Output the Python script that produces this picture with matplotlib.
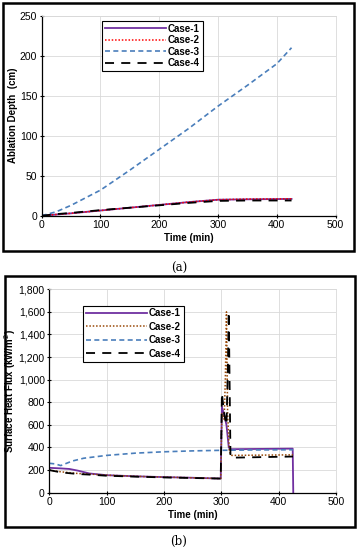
import matplotlib.pyplot as plt
from matplotlib.patches import Rectangle

plt.rcParams['font.family'] = ['Liberation Sans', 'DejaVu Sans']

# (a) ablation depth data
t_a = [0, 25, 50, 100, 150, 200, 250, 300, 350, 400, 425]
depth1 = [0, 1.5, 3, 6.5, 10, 13.5, 17, 20, 20.5, 20.8, 21]
depth2 = [0, 1.5, 3, 6.5, 10, 13.5, 17, 20, 20.8, 21, 21.2]
depth3 = [0, 5, 13, 32, 57, 83, 109, 137, 163, 190, 210]
depth4 = [0, 2, 3.5, 7, 10, 13, 16, 18.5, 19, 19, 19]

# (b) surface heat flux data
t1 = [0, 20, 35, 50, 70, 100, 150, 200, 250, 299, 301, 305, 309, 313, 316, 424.5, 425.5]
flux1 = [220, 215, 210, 195, 170, 155, 145, 138, 132, 125, 760, 690, 600, 400, 385, 390, 0]
t2 = [0, 20, 50, 70, 100, 150, 200, 250, 299, 301, 305, 307, 309, 311, 314, 318, 425]
flux2 = [200, 185, 170, 165, 155, 145, 138, 132, 125, 700, 650, 1000, 1600, 700, 360, 330, 335]
t3 = [0, 10, 20, 40, 60, 100, 150, 200, 250, 300, 350, 425]
flux3 = [260, 255, 240, 280, 305, 330, 350, 362, 370, 375, 378, 380]
t4 = [0, 20, 50, 70, 100, 150, 200, 250, 299, 301, 305, 309, 311, 313, 316, 320, 425]
flux4 = [200, 180, 165, 160, 150, 142, 135, 130, 125, 880, 700, 600, 1000, 1600, 320, 310, 320]

fig = plt.figure(figsize=(3.58, 5.5), dpi=100)

# black frames around each panel
fig.patches.append(Rectangle((3 / 358, 1 - 251 / 550), 351 / 358, 248 / 550,
                             transform=fig.transFigure, fill=False, lw=1.8, ec='black'))
fig.patches.append(Rectangle((5 / 358, 1 - 527 / 550), 350 / 358, 251 / 550,
                             transform=fig.transFigure, fill=False, lw=1.8, ec='black'))


def style(ax):
    ax.grid(True, color='#d9d9d9', lw=0.6)
    ax.set_axisbelow(True)
    for s in ['top', 'right']:
        ax.spines[s].set_color('#d9d9d9')
        ax.spines[s].set_linewidth(0.6)
    for s in ['left', 'bottom']:
        ax.spines[s].set_linewidth(0.9)
    ax.tick_params(labelsize=7.5, length=2.5, width=0.8, direction='inout', pad=2)
    ax.set_xlim(0, 500)
    ax.set_xticks([0, 100, 200, 300, 400, 500])
    ax.set_xlabel('Time (min)', fontsize=7, fontweight='bold', labelpad=2)


def add_legend(ax, anchor, spacing):
    leg = ax.legend(loc='upper left', bbox_to_anchor=anchor,
                    prop={'weight': 'bold', 'size': 7}, fancybox=False, framealpha=1,
                    edgecolor='black', handlelength=6.3, handletextpad=0.2,
                    borderpad=0.3, labelspacing=spacing, borderaxespad=0)
    leg.get_frame().set_linewidth(0.8)


# panel (a)
ax1 = fig.add_axes([0.1165, 0.6078, 0.821, 0.3636])
ax1.plot(t_a, depth1, color='#7030a0', lw=1.3, label='Case-1')
ax1.plot(t_a, depth2, color='#ff0000', lw=1.1, ls=(0, (1, 1.2)), label='Case-2')
ax1.plot(t_a, depth3, color='#4a7ebb', lw=1.2, ls=(0, (3, 2)), label='Case-3')
ax1.plot(t_a, depth4, color='black', lw=1.3, ls=(0, (5, 4)), label='Case-4')
style(ax1)
ax1.set_ylim(0, 250)
ax1.set_yticks(range(0, 251, 50))
ax1.set_ylabel('Ablation Depth  (cm)', fontsize=7, fontweight='bold')
ax1.yaxis.set_label_coords(-0.08, 0.5)
add_legend(ax1, (0.205, 0.975), 0.15)
fig.text(0.5, 1 - 268 / 550, '(a)', ha='center', va='center', fontsize=8.5,
         family='DejaVu Serif')

# panel (b)
ax2 = fig.add_axes([0.1377, 0.1042, 0.8008, 0.3698])
ax2.plot(t1, flux1, color='#7030a0', lw=1.3, label='Case-1')
ax2.plot(t2, flux2, color='#984807', lw=1.1, ls=(0, (1, 1.2)), label='Case-2')
ax2.plot(t3, flux3, color='#4a7ebb', lw=1.2, ls=(0, (3, 2)), label='Case-3')
ax2.plot(t4, flux4, color='black', lw=1.3, ls=(0, (5, 4)), label='Case-4')
style(ax2)
ax2.set_ylim(0, 1800)
ax2.set_yticks(range(0, 1801, 200))
ax2.set_yticklabels([f'{v:,}' for v in range(0, 1801, 200)])
ax2.set_ylabel('Surface Heat Flux (kW/m$^2$)', fontsize=7, fontweight='bold')
ax2.yaxis.set_label_coords(-0.108, 0.5)
add_legend(ax2, (0.117, 0.92), 0.35)
fig.text(0.5, 1 - 541 / 550, '(b)', ha='center', va='center', fontsize=8.5,
         family='DejaVu Serif')

fig.savefig('out.png', dpi=100)
